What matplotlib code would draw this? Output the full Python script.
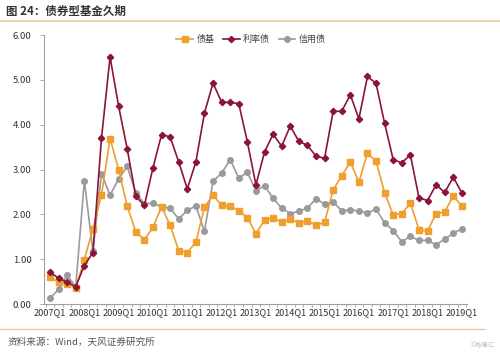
import numpy as np
import matplotlib
matplotlib.use("Agg")
import matplotlib.pyplot as plt
from matplotlib.lines import Line2D

plt.rcParams["font.family"] = ["Noto Sans CJK SC", "DejaVu Sans"]

# ── Data ─────────────────────────────────────────────────────────────────────
quarters = [f"{y}Q{q}" for y in range(2007, 2020) for q in range(1, 5)][:49]

bond_fund = [0.60, 0.49, 0.45, 0.36, 0.99, 1.68, 2.43, 3.69, 3.00, 2.18,
             1.61, 1.44, 1.71, 2.17, 1.76, 1.19, 1.15, 1.38, 2.16, 2.43,
             2.20, 2.19, 2.08, 1.93, 1.57, 1.87, 1.93, 1.82, 1.90, 1.81,
             1.85, 1.76, 1.82, 2.55, 2.86, 3.17, 2.72, 3.37, 3.18, 2.48,
             1.99, 2.02, 2.25, 1.66, 1.63, 2.02, 2.05, 2.42, 2.18]

rate_bond = [0.71, 0.58, 0.49, 0.39, 0.86, 1.15, 3.70, 5.51, 4.41, 3.46,
             2.40, 2.20, 3.04, 3.78, 3.73, 3.17, 2.57, 3.17, 4.26, 4.93,
             4.50, 4.50, 4.47, 3.62, 2.66, 3.39, 3.79, 3.52, 3.97, 3.63,
             3.54, 3.30, 3.25, 4.30, 4.30, 4.67, 4.13, 5.08, 4.92, 4.03,
             3.22, 3.15, 3.33, 2.37, 2.31, 2.66, 2.49, 2.83, 2.48]

credit_bond = [0.13, 0.33, 0.64, 0.39, 2.75, 1.18, 2.91, 2.43, 2.79, 3.07,
               2.48, 2.24, 2.25, 2.17, 2.14, 1.90, 2.09, 2.19, 1.62, 2.74,
               2.92, 3.22, 2.81, 2.94, 2.53, 2.64, 2.36, 2.14, 2.02, 2.07,
               2.14, 2.35, 2.23, 2.28, 2.08, 2.10, 2.08, 2.03, 2.12, 1.81,
               1.64, 1.39, 1.51, 1.42, 1.42, 1.32, 1.45, 1.58, 1.68]

ORANGE = "#EE9F2E"
RED = "#8A1538"
GRAY = "#9A9A9A"
TAN = "#EBCB9E"

# ── Figure ───────────────────────────────────────────────────────────────────
fig = plt.figure(figsize=(5.0, 3.54), dpi=100)
ax = fig.add_axes([0.088, 0.141, 0.846, 0.760])

x = np.arange(len(quarters))
ax.plot(x, bond_fund, color=ORANGE, lw=1.2, marker="s", ms=4.2,
        label="债基", zorder=3)
ax.plot(x, rate_bond, color=RED, lw=1.2, marker="D", ms=3.2,
        label="利率债", zorder=4)
ax.plot(x, credit_bond, color=GRAY, lw=1.2, marker="o", ms=4.0,
        label="信用债", zorder=2)

ax.set_ylim(0, 6)
ax.set_yticks(np.arange(0, 6.01, 1))
ax.set_yticklabels([f"{v:.2f}" for v in np.arange(0, 6.01, 1)])
ax.set_xlim(-0.7, 48.6)
ax.set_xticks(x[::4])
ax.set_xticklabels(quarters[::4])
ax.set_xticks(np.arange(-0.5, 49, 1), minor=True)

for s in ["top", "right"]:
    ax.spines[s].set_visible(False)
for s in ["left", "bottom"]:
    ax.spines[s].set_color("#A0A0A0")
    ax.spines[s].set_linewidth(0.8)

ax.tick_params(axis="y", labelsize=6.8, colors="#A0A0A0", labelcolor="#333333",
               length=3, width=0.6, pad=6)
ax.tick_params(axis="x", which="major", labelsize=6.6, colors="#A0A0A0",
               labelcolor="#333333", length=0, pad=3)
ax.tick_params(axis="x", which="minor", colors="#A0A0A0", length=2.5, width=0.6)

leg = ax.legend(loc="upper center", bbox_to_anchor=(0.49, 1.03), ncol=3,
                frameon=False, fontsize=6.5, handlelength=1.8,
                columnspacing=1.0, handletextpad=0.4)
for t in leg.get_texts():
    t.set_color("#444444")

# title, rules and source
fig.text(0.012, 0.968, "图 24：债券型基金久期", fontsize=8.3, fontweight="bold",
         color="#333333", va="center", ha="left")
fig.add_artist(Line2D([0.0, 1.0], [0.940, 0.940], color=TAN, lw=1.2,
                      transform=fig.transFigure))
fig.add_artist(Line2D([0.0, 0.97], [0.070, 0.070], color=TAN, lw=1.0,
                      transform=fig.transFigure))
fig.text(0.016, 0.034, "资料来源：Wind，天风证券研究所", fontsize=6.9,
         color="#555555", va="center", ha="left")
fig.text(0.99, 0.024, "©格隆汇", fontsize=4.5, color="#C0C0C0",
         va="center", ha="right")

fig.savefig("out.png", dpi=100)
